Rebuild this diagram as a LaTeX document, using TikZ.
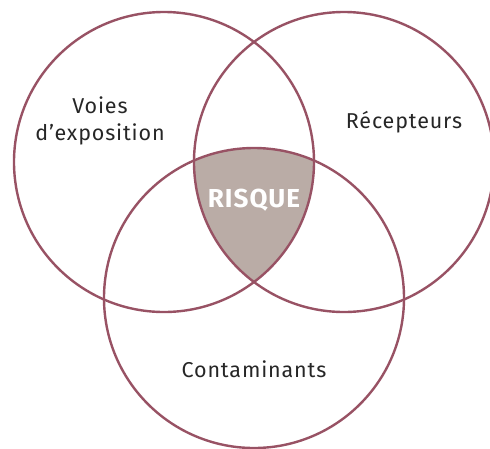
\documentclass[tikz,border=0pt]{standalone}
\usepackage{fontspec}
\setmainfont{Fira Sans}[LetterSpace=4]
\usetikzlibrary{positioning}
\definecolor{ringcol}{RGB}{152,82,100}
\definecolor{risqcol}{RGB}{186,172,166}
\tikzset{every ring/.style={circle,draw=ringcol,line width=2.4pt,minimum size=300pt,inner sep=0pt},
label text/.style={font=\fontsize{21.5}{27}\selectfont,text=black!85,align=center}
}

\begin{document}
\begin{tikzpicture}[x=1pt,y=-1pt]
            \useasboundingbox (0,0) rectangle (490,448);
            \begin{scope}
                \clip (164,162) circle (150);
                \clip (344,162) circle (150);
                \fill[risqcol] (254,298) circle (150);
            \end{scope}
            \node[every ring] (voies) at (164,162) {};
            \node[every ring] (recepteurs) at (344,162) {};
            \node[every ring] (contaminants) at (254,298) {};
            \node[label text] (t_voies) at (100,121) {Voies\\d’exposition};
            \node[label text] (t_recep) at (404,122) {Récepteurs};
            \node[label text] (t_cont) at (254,369) {Contaminants};
            \node[label text,text=white,font=\bfseries\fontsize{26}{30}\selectfont] (t_risque) at (254,200) {RISQUE};
        \end{tikzpicture}
\end{document}
